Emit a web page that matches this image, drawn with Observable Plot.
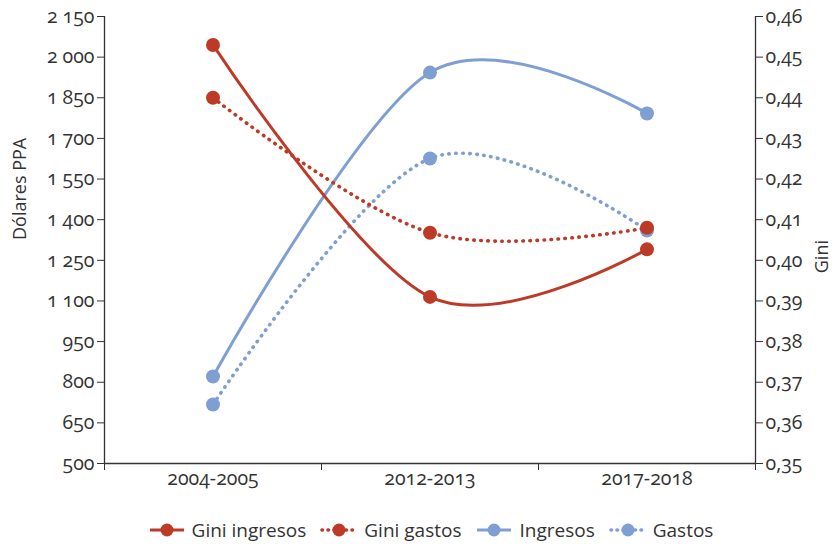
<!DOCTYPE html>
<html>
<head>
<meta charset="utf-8">
<script src="https://cdn.jsdelivr.net/npm/d3@7"></script>
<script src="https://cdn.jsdelivr.net/npm/@observablehq/plot@0.6"></script>
<style>
  body { margin: 0; background: #fff; font-family: "Open Sans", sans-serif; color: #333; }
  #chart { width: 835px; }
  #chart svg text { font-size: 19.5px; font-variant-numeric: oldstyle-nums; font-family: "Open Sans", sans-serif; }
  #chart svg text.title { font-size: 18px; }
  #legend { display: flex; justify-content: center; align-items: center; width: 835px; box-sizing: border-box; padding-left: 26px; margin-top: 17px; font-size: 19px; color: #333; }
  .item { display: flex; align-items: center; margin: 0 7px; }
  .item svg { margin-right: 6px; }
</style>
</head>
<body>
<div id="chart"></div>
<div id="legend"></div>
<script>
const categories = ["2004-2005", "2012-2013", "2017-2018"];
const giniIngresos = [0.453, 0.391, 0.4027];
const giniGastos = [0.440, 0.4068, 0.408];
const ingresos = [821, 1943, 1792];
const gastos = [718, 1626, 1360];
const leftTicks = [500, 650, 800, 950, 1100, 1250, 1400, 1550, 1700, 1850, 2000, 2150];
const rightTicks = [0.35, 0.36, 0.37, 0.38, 0.39, 0.40, 0.41, 0.42, 0.43, 0.44, 0.45, 0.46];
const seriesNames = ["Gini ingresos", "Gini gastos", "Ingresos", "Gastos"];

const RED = "#bd3a27";
const BLUE = "#7f9fd3";
const locale = d3.formatLocale({decimal: ",", thousands: " ", grouping: [3], currency: ["", ""]});
const fmtLeft = locale.format(",d");
const fmtRight = locale.format(".2f");

// map Gini (right axis) onto the left axis scale
const gMin = 0.35, gMax = 0.46, yMin = 500, yMax = 2150;
const g2y = g => yMin + (g - gMin) * (yMax - yMin) / (gMax - gMin);
const y2g = v => gMin + (v - yMin) * (gMax - gMin) / (yMax - yMin);

const rows = (vals, name, conv) => vals.map((v, i) => ({i: i + 0.5, v: conv ? conv(v) : v, name}));
const dGiniIng = rows(giniIngresos, seriesNames[0], g2y);
const dGiniGas = rows(giniGastos, seriesNames[1], g2y);
const dIng = rows(ingresos, seriesNames[2]);
const dGas = rows(gastos, seriesNames[3]);

const curve = d3.curveCardinal.tension(0);
const dotted = {strokeDasharray: "0.5 6.5", strokeLinecap: "round", strokeWidth: 3.6};

const plot = Plot.plot({
  width: 835,
  height: 500,
  marginLeft: 104,
  marginRight: 80,
  marginTop: 16,
  marginBottom: 37,
  style: {fontFamily: "Open Sans, sans-serif", fontSize: "19px", color: "#333"},
  x: {type: "linear", domain: [0, 3], axis: null},
  y: {domain: [yMin, yMax], axis: null},
  marks: [
    Plot.axisY({ticks: leftTicks, tickFormat: fmtLeft, tickSize: 7, tickPadding: 3, label: null, stroke: "#333"}),
    Plot.axisY({anchor: "right", ticks: rightTicks.map(g2y), tickFormat: v => fmtRight(y2g(v)), tickSize: 7, tickPadding: 3, label: null, stroke: "#333"}),
    Plot.axisX({ticks: [0, 1, 2, 3], tickFormat: () => "", tickSize: 7, label: null, stroke: "#333"}),
    Plot.axisX(categories.map((c, i) => i + 0.5), {tickFormat: v => categories[v - 0.5], tickSize: 0, tickPadding: 8, label: null}),
    Plot.ruleX([0, 3], {stroke: "#333", strokeWidth: 1.3}),
    Plot.ruleY([yMin], {stroke: "#333", strokeWidth: 1.3}),
    Plot.text(["Dólares PPA"], {frameAnchor: "left", dx: -84, rotate: -90, fill: "#333", className: "title"}),
    Plot.text(["Gini"], {frameAnchor: "right", dx: 67, rotate: -90, fill: "#333", className: "title"}),
    Plot.line(dIng, {x: "i", y: "v", stroke: BLUE, strokeWidth: 3, curve}),
    Plot.line(dGas, {x: "i", y: "v", stroke: BLUE, curve, ...dotted}),
    Plot.dot(dIng, {x: "i", y: "v", r: 7, fill: BLUE}),
    Plot.dot(dGas, {x: "i", y: "v", r: 7, fill: BLUE}),
    Plot.line(dGiniIng, {x: "i", y: "v", stroke: RED, strokeWidth: 3, curve}),
    Plot.line(dGiniGas, {x: "i", y: "v", stroke: RED, curve, ...dotted}),
    Plot.dot(dGiniIng, {x: "i", y: "v", r: 7, fill: RED}),
    Plot.dot(dGiniGas, {x: "i", y: "v", r: 7, fill: RED})
  ]
});
document.getElementById("chart").appendChild(plot);
plot.querySelectorAll('g[aria-label="text"] text').forEach(t => t.classList.add("title"));

// legend
const legendColors = [RED, RED, BLUE, BLUE];
const legendDotted = [false, true, false, true];
const legend = document.getElementById("legend");
seriesNames.forEach((name, k) => {
  const item = document.createElement("div");
  item.className = "item";
  const dash = legendDotted[k] ? 'stroke-dasharray="0.5 5.5" stroke-linecap="round" stroke-width="3.6"' : 'stroke-width="3"';
  item.innerHTML = `<svg width="38" height="16"><line x1="2" x2="36" y1="8" y2="8" stroke="${legendColors[k]}" ${dash}/><circle cx="19" cy="8" r="6.5" fill="${legendColors[k]}"/></svg><span>${name}</span>`;
  legend.appendChild(item);
});
</script>
</body>
</html>
